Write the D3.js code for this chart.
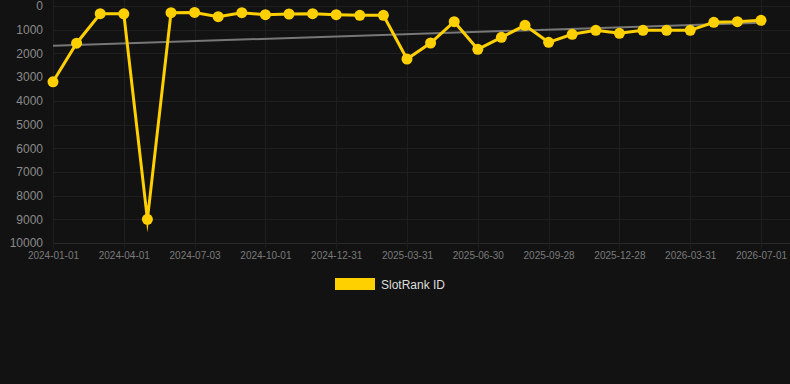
<!DOCTYPE html>
<html>
<head>
<meta charset="utf-8">
<script src="https://cdn.jsdelivr.net/npm/d3@7/dist/d3.min.js"></script>
<style>
  html, body { margin: 0; padding: 0; background: #121212; }
  svg { display: block; }
</style>
</head>
<body>
<svg id="chart" width="790" height="384"></svg>
<script>
// ---- data ----
const dates = [
  "2024-01-01","2024-01-31","2024-03-01","2024-04-01","2024-05-01","2024-06-01",
  "2024-07-03","2024-08-02","2024-09-01","2024-10-01","2024-10-31","2024-12-01",
  "2024-12-31","2025-01-30","2025-03-01","2025-03-31","2025-04-30","2025-05-30",
  "2025-06-30","2025-07-30","2025-08-29","2025-09-28","2025-10-28","2025-11-27",
  "2025-12-28","2026-01-27","2026-02-27","2026-03-31","2026-05-01","2026-05-31",
  "2026-07-01"
];
const rankValues = [
  3200, 1570, 325, 330, 9000, 283,
  270, 450, 283, 367, 338, 325,
  367, 392, 392, 2236, 1561, 662,
  1828, 1321, 816, 1533, 1195, 1027,
  1153, 1027, 1027, 1027, 689, 661,
  605
];
const trendValues = [1675, 705]; // trend line at first and last date
const yTicks = [0,1000,2000,3000,4000,5000,6000,7000,8000,9000,10000];
const xTickLabels = dates.filter((d, i) => i % 3 === 0);
const seriesName = "SlotRank ID";

// ---- layout ----
const svg = d3.select("#chart");
const mLeft = 53, mRight = 761, mTop = 6, mBottom = 243;

const x = d3.scalePoint().domain(dates).range([mLeft, mRight]);
const y = d3.scaleLinear().domain([0, 10000]).range([mTop, mBottom]);

// grid
const grid = svg.append("g");
grid.selectAll("line.h").data(yTicks).join("line")
  .attr("x1", mLeft).attr("x2", 790)
  .attr("y1", d => Math.round(y(d)) + 0.5).attr("y2", d => Math.round(y(d)) + 0.5)
  .attr("stroke", d => d === 10000 ? "#2a2a2a" : "#1f1f1f").attr("stroke-width", 1);
grid.selectAll("line.v").data(xTickLabels).join("line")
  .attr("x1", d => Math.round(x(d)) + 0.5).attr("x2", d => Math.round(x(d)) + 0.5)
  .attr("y1", 0).attr("y2", mBottom + 6)
  .attr("stroke", "#1f1f1f").attr("stroke-width", 1);

// y axis labels
const yAxis = d3.axisLeft(y).tickValues(yTicks).tickSize(0).tickPadding(0).tickFormat(d3.format("d"));
const gy = svg.append("g").attr("transform", `translate(${mLeft - 10},0)`).call(yAxis);
gy.select(".domain").remove();
gy.selectAll("text").attr("fill", "#8a8a8a").style("font-family", "'Liberation Sans', Arial, sans-serif").style("font-size", "12px");

// x axis labels
const xAxis = d3.axisBottom(x).tickValues(xTickLabels).tickSize(0).tickPadding(0);
const gx = svg.append("g").attr("transform", `translate(0,${mBottom + 9})`).call(xAxis);
gx.select(".domain").remove();
gx.selectAll("text").attr("fill", "#7a7a7a").style("font-family", "'Liberation Sans', Arial, sans-serif").style("font-size", "10px");

// trend line
svg.append("line")
  .attr("x1", x(dates[0])).attr("y1", y(trendValues[0]))
  .attr("x2", x(dates[dates.length - 1])).attr("y2", y(trendValues[1]))
  .attr("stroke", "#777").attr("stroke-width", 2);

// series line
const line = d3.line().x((d, i) => x(dates[i])).y(d => y(d));
svg.append("path").datum(rankValues)
  .attr("d", line)
  .attr("fill", "none").attr("stroke", "#FFD000").attr("stroke-width", 3)
  .attr("stroke-linejoin", "miter").attr("stroke-miterlimit", 10);

// points
svg.selectAll("circle.pt").data(rankValues).join("circle")
  .attr("cx", (d, i) => x(dates[i])).attr("cy", d => y(d))
  .attr("r", 5.5).attr("fill", "#FFD000");

// legend
svg.append("rect").attr("x", 335).attr("y", 278).attr("width", 40).attr("height", 12).attr("fill", "#FFD000");
svg.append("text").attr("x", 381).attr("y", 289).text(seriesName)
  .attr("fill", "#dddddd").style("font-family", "'Liberation Sans', Arial, sans-serif").style("font-size", "12px");
</script>
</body>
</html>
